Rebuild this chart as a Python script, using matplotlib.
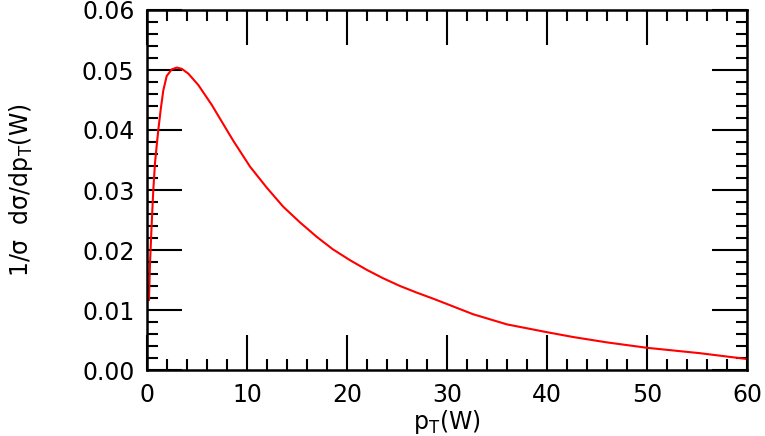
import numpy as np
import matplotlib.pyplot as plt
from matplotlib.ticker import MultipleLocator

# values
pt = [0.2, 0.3, 0.47, 0.63, 0.8, 0.97, 1.13, 1.37, 1.63, 1.97, 2.47, 2.97,
      3.47, 4.13, 5.13, 6.47, 7.8, 8.63, 10.3, 11.97, 13.63, 15.3, 16.97,
      18.6, 20.3, 21.97, 23.6, 25.3, 26.97, 28.6, 30.3, 32.6, 36.0, 40.0,
      42.6, 46.0, 50.0, 55.3, 60.0]
dsig = [0.0117, 0.0178, 0.0244, 0.0300, 0.0345, 0.0374, 0.0400, 0.0434,
        0.0466, 0.0490, 0.0501, 0.0504, 0.0502, 0.0494, 0.0475, 0.0442,
        0.0405, 0.0382, 0.0339, 0.0304, 0.0272, 0.0246, 0.0222, 0.0201,
        0.0183, 0.0167, 0.0153, 0.0140, 0.0129, 0.0119, 0.0108, 0.0093,
        0.0076, 0.0063, 0.0055, 0.0046, 0.0037, 0.0028, 0.00183]

plt.rcParams['font.family'] = 'DejaVu Sans'
plt.rcParams['mathtext.default'] = 'regular'

fig = plt.figure(figsize=(7.65, 4.36), dpi=100)
ax = fig.add_axes([147 / 765, 1 - 370 / 436, 600 / 765, 360 / 436])

ax.plot(pt, dsig, color='red', lw=1.5)

ax.set_xlim(0, 60)
ax.set_ylim(0, 0.06)
ax.xaxis.set_major_locator(MultipleLocator(10))
ax.xaxis.set_minor_locator(MultipleLocator(2))
ax.yaxis.set_major_locator(MultipleLocator(0.01))
ax.yaxis.set_minor_locator(MultipleLocator(0.002))
ax.yaxis.set_major_formatter(plt.FormatStrFormatter('%.2f'))

ax.tick_params(which='both', direction='in', top=True, right=True,
               width=1.5, labelsize=17)
ax.tick_params(which='major', length=25, pad=9)
ax.tick_params(which='minor', length=8)
for s in ax.spines.values():
    s.set_linewidth(1.8)

ax.set_xlabel('p$_T$(W)', fontsize=17, labelpad=1)
ax.set_ylabel('1/σ  dσ/dp$_T$(W)', fontsize=17, labelpad=34)

fig.savefig('out.png', dpi=100)
